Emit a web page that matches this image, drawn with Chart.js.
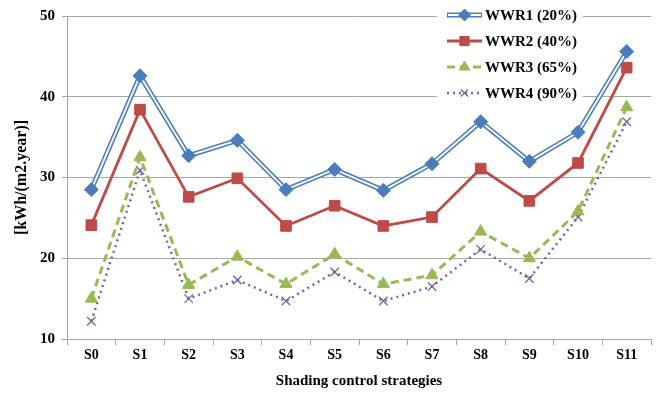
<!DOCTYPE html>
<html>
<head>
<meta charset="utf-8">
<script src="https://cdn.jsdelivr.net/npm/chart.js@4.4.1/dist/chart.umd.min.js"></script>
<style>
  html, body { margin: 0; padding: 0; background: #ffffff; }
  #wrap { width: 666px; height: 396px; position: relative; }
</style>
</head>
<body>
<div id="wrap"><canvas id="c" width="666" height="396"></canvas></div>
<script>
// Shading control strategies on the category axis
const strategies = ['S0', 'S1', 'S2', 'S3', 'S4', 'S5', 'S6', 'S7', 'S8', 'S9', 'S10', 'S11'];

// Annual energy demand, kWh/(m2.year), per window-to-wall ratio
const wwr1 = [28.5, 42.6, 32.7, 34.6, 28.5, 31.0, 28.4, 31.7, 36.9, 32.0, 35.6, 45.6];
const wwr2 = [24.1, 38.4, 27.6, 29.9, 24.0, 26.5, 24.0, 25.1, 31.1, 27.1, 31.8, 43.6];
const wwr3 = [15.0, 32.5, 16.7, 20.2, 16.8, 20.5, 16.8, 17.9, 23.3, 20.0, 25.8, 38.7];
const wwr4 = [12.2, 30.9, 15.0, 17.3, 14.7, 18.3, 14.7, 16.5, 21.1, 17.5, 25.1, 36.9];

const seriesNames = ['WWR1 (20%)', 'WWR2 (40%)', 'WWR3 (65%)', 'WWR4 (90%)'];
const yTicks = [10, 20, 30, 40, 50];

const BLUE = '#4a7ebb', RED = '#be4b48', GREEN = '#98b954', PURPLE = '#7d60a0';
const SERIF = '"Liberation Serif", "Times New Roman", serif';

const styles = [
  { color: BLUE, point: 'rectRot', radius: 7, dash: [], width: 5 },
  { color: RED, point: 'rect', radius: 7.5, dash: [], width: 2.8 },
  { color: GREEN, point: 'triangle', radius: 7, dash: [8, 5], width: 3 },
  { color: PURPLE, point: 'crossRot', radius: 6, dash: [2, 4], width: 2.5 }
];

// Legend drawn inside the plot, with a line sample plus marker per series
const legendPlugin = {
  id: 'lineLegend',
  afterDraw(chart) {
    const ctx = chart.ctx;
    ctx.save();
    ctx.fillStyle = '#ffffff';
    ctx.fillRect(437, 0, 146, 106);
    const rowY = [15, 41, 67, 93];
    seriesNames.forEach((name, i) => {
      const s = styles[i];
      const y = rowY[i];
      const x0 = 447, x1 = 482;
      ctx.save();
      ctx.strokeStyle = s.color;
      ctx.lineWidth = s.width;
      ctx.setLineDash(s.dash);
      ctx.beginPath(); ctx.moveTo(x0, y); ctx.lineTo(x1, y); ctx.stroke();
      if (i === 0) {
        ctx.strokeStyle = '#ffffff';
        ctx.lineWidth = 1.8;
        ctx.beginPath(); ctx.moveTo(x0 + 1, y); ctx.lineTo(x1 - 1, y); ctx.stroke();
      }
      ctx.restore();
      ctx.save();
      ctx.fillStyle = s.color;
      ctx.strokeStyle = s.color;
      ctx.lineWidth = i === 3 ? 1.2 : 1;
      Chart.helpers.drawPoint(ctx, { pointStyle: s.point, radius: s.radius - 1, borderWidth: ctx.lineWidth, rotation: 0 }, (x0 + x1) / 2, y);
      ctx.restore();
      ctx.fillStyle = '#000000';
      ctx.font = 'bold 15px ' + SERIF;
      ctx.textBaseline = 'middle';
      ctx.textAlign = 'left';
      ctx.fillText(name, 485, y + 1);
    });
    ctx.restore();
  }
};

const mainSets = [wwr1, wwr2, wwr3, wwr4].map((data, i) => {
  const s = styles[i];
  return {
    label: seriesNames[i],
    data: data,
    borderColor: s.color,
    backgroundColor: s.color,
    borderWidth: s.width,
    borderDash: s.dash,
    pointStyle: s.point,
    pointRadius: s.radius,
    pointHoverRadius: s.radius,
    pointBorderWidth: i === 3 ? 1.3 : 1,
    pointBackgroundColor: s.color,
    pointBorderColor: s.color,
    tension: 0,
    order: 10 + i
  };
});

// White core of the double blue line for WWR1, and its markers on top
const innerLine = {
  label: '_wwr1core', data: wwr1, borderColor: '#ffffff', borderWidth: 1.8,
  pointRadius: 0, pointHoverRadius: 0, tension: 0, order: 2
};
const wwr1Markers = {
  label: '_wwr1pts', data: wwr1, showLine: false, pointStyle: 'rectRot',
  pointRadius: 7, pointHoverRadius: 7, pointBackgroundColor: BLUE, pointBorderColor: BLUE,
  pointBorderWidth: 1, order: 1
};
mainSets[0].pointRadius = 0;
mainSets[0].pointHoverRadius = 0;

new Chart(document.getElementById('c'), {
  type: 'line',
  data: { labels: strategies, datasets: [wwr1Markers, innerLine].concat(mainSets) },
  options: {
    responsive: false,
    animation: false,
    events: [],
    layout: { padding: { left: 12, right: 15, top: 16, bottom: 0 } },
    plugins: { legend: { display: false }, tooltip: { enabled: false } },
    scales: {
      x: {
        offset: true,
        grid: { offset: true, drawOnChartArea: false, color: '#a6a6a6', tickLength: 6 },
        border: { color: '#a6a6a6', width: 1 },
        ticks: { color: '#000', font: { family: SERIF, size: 14, weight: 'bold' }, padding: 2, maxRotation: 0 },
        title: { display: true, text: 'Shading control strategies', color: '#000', font: { family: SERIF, size: 15, weight: 'bold' }, padding: { top: 4, bottom: 6 } },
        afterFit(scale) { scale.height = 57; }
      },
      y: {
        min: 10, max: 50,
        afterBuildTicks(scale) { scale.ticks = yTicks.map(v => ({ value: v })); },
        grid: { color: '#a6a6a6', tickLength: 5, lineWidth: 1 },
        border: { color: '#a6a6a6', width: 1 },
        ticks: { color: '#000', font: { family: SERIF, size: 15, weight: 'bold' }, padding: 7 },
        title: { display: true, text: '[kWh/(m2.year)]', color: '#000', font: { family: SERIF, size: 16, weight: 'bold' }, padding: { top: 0, bottom: 4 } },
        afterFit(scale) { scale.width = 55; }
      }
    }
  },
  plugins: [legendPlugin]
});
</script>
</body>
</html>
